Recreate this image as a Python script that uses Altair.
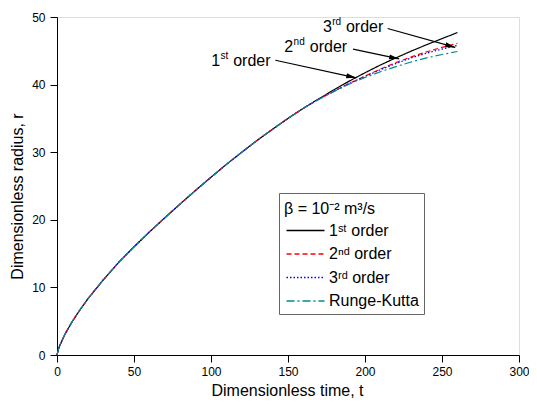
import math
import altair as alt
import pandas as pd

# ---------------- data ----------------
t_vals = [0, 1, 2, 5, 10, 15, 20, 25, 30, 40, 50, 60, 70, 80, 90, 100, 110, 120,
          130, 140, 150, 160, 170, 180, 190, 200, 210, 220, 230, 240, 250, 260]

r_first = [0, 0.9, 1.5, 3.0, 5.0, 6.7, 8.3, 9.7, 11.1, 13.7, 16.0, 18.2, 20.3,
           22.35, 24.35, 26.3, 28.2, 30.0, 31.75, 33.4, 35.0, 36.5, 37.9,
           39.25, 40.55, 41.75, 42.9, 43.95, 44.95, 45.9, 46.8, 47.7]
r_second = [0, 0.9, 1.5, 3.0, 5.0, 6.7, 8.3, 9.7, 11.1, 13.7, 16.0, 18.2, 20.3,
            22.35, 24.35, 26.3, 28.2, 30.0, 31.75, 33.4, 35.0, 36.5, 37.85,
            39.05, 40.2, 41.25, 42.3, 43.25, 44.1, 44.85, 45.5, 46.1]
r_third = [0, 0.9, 1.5, 3.0, 5.0, 6.7, 8.3, 9.7, 11.1, 13.7, 16.0, 18.2, 20.3,
           22.35, 24.35, 26.3, 28.2, 30.0, 31.75, 33.4, 35.0, 36.5, 37.85,
           39.05, 40.2, 41.2, 42.2, 43.1, 43.95, 44.65, 45.25, 45.8]
r_rk = [0, 0.9, 1.5, 3.0, 5.0, 6.7, 8.3, 9.7, 11.1, 13.7, 16.0, 18.2, 20.3,
        22.35, 24.35, 26.3, 28.2, 30.0, 31.75, 33.4, 35.0, 36.5, 37.8,
        39.0, 40.1, 41.05, 41.9, 42.65, 43.35, 43.95, 44.45, 44.9]

series_names = ["1ˢᵗ order", "2ⁿᵈ order", "3ʳᵈ order", "Runge-Kutta"]
series_values = [r_first, r_second, r_third, r_rk]

# annotation labels and arrows
ann_num = ["1", "2", "3"]
ann_sup = ["st", "nd", "rd"]
ann_t = [100.1, 147.6, 172.7]
ann_r = [42.8, 44.8, 47.8]
arrow_t0 = [141.8, 192.2, 214.7]
arrow_r0 = [43.6, 45.25, 48.3]
arrow_t1 = [194.3, 222.2, 258.6]
arrow_r1 = [41.0, 43.8, 45.5]

legend_title = "β = 10⁻² m³/s"

# ---------------- styling ----------------
W, H = 462, 338
X_MAX, Y_MAX = 300, 50
FONT = "Liberation Sans"
colors = ["#000000", "#FF0000", "#0000FF", "#008C8C"]
dashes = [[1, 0], [5, 3], [1.5, 2], [8, 3, 2, 3]]

rows = []
for name, vals in zip(series_names, series_values):
    for t, r in zip(t_vals, vals):
        rows.append({"t": t, "r": r, "series": name})
df = pd.DataFrame(rows)

x_scale = alt.Scale(domain=[0, X_MAX], nice=False, zero=False)
y_scale = alt.Scale(domain=[0, Y_MAX], nice=False, zero=False)

x_axis = alt.Axis(
    values=list(range(0, 301, 25)),
    labelExpr="datum.value % 50 === 0 ? datum.label : ''",
    tickSize={"condition": {"test": "datum.value % 50 === 0", "value": 7}, "value": 4},
    labelOverlap=False, labelFlush=False, grid=False,
    domainColor="black", tickColor="black", labelColor="black",
    labelFontSize=12, labelFont=FONT, labelPadding=4,
    title="Dimensionless time, t", titleFont=FONT, titleFontSize=16,
    titleFontWeight="normal", titleColor="black",
    titleX=230, titleY=40, titleBaseline="alphabetic", titleAlign="center",
)
y_axis = alt.Axis(
    values=list(range(0, 51, 5)),
    labelExpr="datum.value % 10 === 0 ? datum.label : ''",
    tickSize={"condition": {"test": "datum.value % 10 === 0", "value": 7}, "value": 4},
    labelOverlap=False, labelFlush=False, grid=False,
    domainColor="black", tickColor="black", labelColor="black",
    labelFontSize=12, labelFont=FONT, labelPadding=5,
    title="Dimensionless radius, r", titleFont=FONT, titleFontSize=16,
    titleFontWeight="normal", titleColor="black",
    titleX=-35, titleY=179, titleBaseline="alphabetic", titleAlign="center",
    titleAngle=270,
)

legend = alt.Legend(
    orient="none", legendX=222, legendY=176, direction="vertical",
    title=legend_title, titleFont=FONT, titleFontSize=16,
    titleFontWeight="normal", titleColor="black",
    titleBaseline="line-top", titleLineHeight=23, titlePadding=6,
    labelFont=FONT, labelFontSize=16, labelColor="black", labelOffset=13,
    symbolType="M-2,0L2,0", symbolSize=361, symbolStrokeWidth=1.3, symbolOffset=11,
    rowPadding=4.5, padding=5, strokeColor="#666666", fillColor="white",
)

lines = alt.Chart(df).mark_line(strokeWidth=1.2).encode(
    x=alt.X("t:Q", scale=x_scale, axis=x_axis),
    y=alt.Y("r:Q", scale=y_scale, axis=y_axis),
    color=alt.Color("series:N", scale=alt.Scale(domain=series_names, range=colors),
                    legend=legend, title=legend_title),
    strokeDash=alt.StrokeDash("series:N", scale=alt.Scale(domain=series_names, range=dashes),
                              legend=legend, title=legend_title),
    order=alt.Order("t:Q"),
)

# arrows
px_x = W / X_MAX
px_y = H / Y_MAX
angles = []
for a, b, c, d in zip(arrow_t0, arrow_r0, arrow_t1, arrow_r1):
    ang = math.degrees(math.atan2((b - d) * px_y, (c - a) * px_x)) % 360
    angles.append(ang)
arr_df = pd.DataFrame({"t0": arrow_t0, "r0": arrow_r0, "t1": arrow_t1,
                       "r1": arrow_r1, "ang": angles})

shafts = alt.Chart(arr_df).mark_rule(color="black", strokeWidth=1.2).encode(
    x=alt.X("t0:Q", scale=x_scale), y=alt.Y("r0:Q", scale=y_scale),
    x2="t1:Q", y2="r1:Q",
)
heads = alt.Chart(arr_df).mark_point(
    shape="M0,0 L-2,-0.5 L-2,0.5 Z", filled=True, color="black",
    size=100, opacity=1, strokeWidth=0,
).encode(
    x=alt.X("t1:Q", scale=x_scale), y=alt.Y("r1:Q", scale=y_scale),
    angle=alt.Angle("ang:Q", scale=None),
)

ann_df = pd.DataFrame({"t": ann_t, "r": ann_r, "num": ann_num, "sup": ann_sup})
order_dx = [22, 25.5, 23]
ann_layers = []
for i in range(len(ann_num)):
    sub = ann_df.iloc[[i]]
    base = alt.Chart(sub).encode(
        x=alt.X("t:Q", scale=x_scale), y=alt.Y("r:Q", scale=y_scale))
    ann_layers.append(base.mark_text(align="left", baseline="alphabetic",
                                     font=FONT, fontSize=16, color="black").encode(text="num:N"))
    ann_layers.append(base.mark_text(align="left", baseline="alphabetic", dx=9.3, dy=-7,
                                     font=FONT, fontSize=10, color="black").encode(text="sup:N"))
    ann_layers.append(base.mark_text(align="left", baseline="alphabetic", dx=order_dx[i],
                                     font=FONT, fontSize=16, color="black").encode(text=alt.value("order")))

chart = alt.layer(lines, shafts, heads, *ann_layers).properties(
    width=W, height=H,
    autosize=alt.AutoSizeParams(type="none"),
    padding={"left": 49, "top": 9, "right": 10, "bottom": 43},
).configure_view(stroke=None).configure(font=FONT, background="white")

chart.save("out.html", embed_options={"renderer": "svg", "actions": False})
